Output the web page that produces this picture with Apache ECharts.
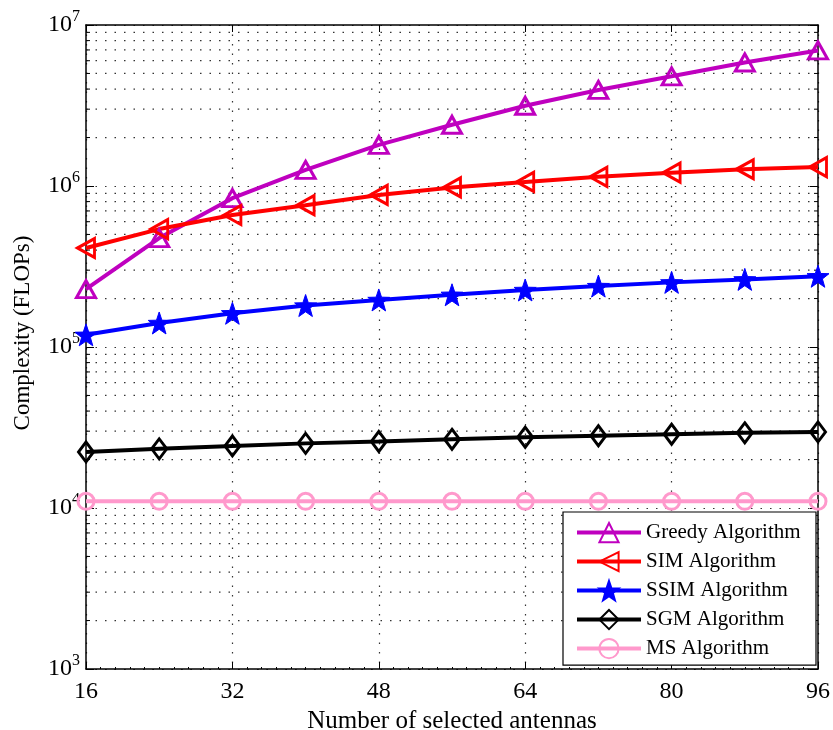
<!DOCTYPE html>
<html>
<head>
<meta charset="utf-8">
<script src="https://cdn.jsdelivr.net/npm/echarts@6/dist/echarts.min.js"></script>
<style>
  html, body { margin: 0; padding: 0; background: #fff; }
  #chart { width: 833px; height: 730px; }
</style>
</head>
<body>
<div id="chart"></div>
<script>
// Number of selected antennas
const antennas = [16, 24, 32, 40, 48, 56, 64, 72, 80, 88, 96];

// Complexity in FLOPs for each algorithm
const greedy = [2.29e5, 4.75e5, 8.4e5, 1.26e6, 1.8e6, 2.4e6, 3.15e6, 3.95e6, 4.8e6, 5.85e6, 6.95e6];
const sim    = [4.12e5, 5.4e5, 6.6e5, 7.6e5, 8.8e5, 9.8e5, 1.06e6, 1.14e6, 1.21e6, 1.27e6, 1.31e6];
const ssim   = [1.19e5, 1.41e5, 1.62e5, 1.81e5, 1.96e5, 2.11e5, 2.26e5, 2.39e5, 2.52e5, 2.63e5, 2.75e5];
const sgm    = [2.23e4, 2.33e4, 2.43e4, 2.52e4, 2.59e4, 2.67e4, 2.75e4, 2.81e4, 2.87e4, 2.93e4, 2.97e4];
const ms     = [1.1e4, 1.1e4, 1.1e4, 1.1e4, 1.1e4, 1.1e4, 1.1e4, 1.1e4, 1.1e4, 1.1e4, 1.1e4];

const seriesNames = ['Greedy Algorithm', 'SIM Algorithm', 'SSIM Algorithm', 'SGM Algorithm', 'MS Algorithm'];
const xTicks = [16, 32, 48, 64, 80, 96];
const yDecades = [3, 4, 5, 6, 7];

const FONT = '"Liberation Serif", "DejaVu Serif", serif';

// minor log positions 2..9 x 10^k between the decades
const minorVals = [];
for (let e = yDecades[0]; e < yDecades[yDecades.length - 1]; e++) {
  for (let k = 2; k <= 9; k++) minorVals.push(k * Math.pow(10, e));
}

const STAR = 'path://M0,-10L2.35,-3.24L9.51,-3.09L3.8,1.24L5.88,8.09L0,4.2L-5.88,8.09L-3.8,1.24L-9.51,-3.09L-2.35,-3.24Z';

function lineSeries(name, data, color, symbol, size, opts) {
  const filled = opts && opts.filled;
  return Object.assign({
    name: name,
    type: 'line',
    data: antennas.map((x, i) => [x, data[i]]),
    symbol: symbol,
    symbolSize: size,
    showAllSymbol: true,
    lineStyle: { color: color, width: 4 },
    itemStyle: filled
      ? { color: color, borderColor: color, borderWidth: 1 }
      : { color: 'rgba(255,255,255,0)', borderColor: color, borderWidth: 3 },
    emphasis: { disabled: true },
    z: 5
  }, opts && opts.extra ? opts.extra : {});
}

const chart = echarts.init(document.getElementById('chart'), null, { renderer: 'canvas' });

const gridDash = { color: '#333', type: [1.5, 8], width: 1.2 };

const option = {
  animation: false,
  backgroundColor: '#fff',
  grid: { left: 86, top: 25, right: 15, bottom: 61, containLabel: false, outerBoundsMode: 'none' },
  legend: {
    data: seriesNames,
    orient: 'vertical',
    left: 563,
    top: 512,
    itemWidth: 64,
    itemHeight: 24,
    itemGap: 7.8,
    padding: [10, 0, 6, 12],
    backgroundColor: '#fff',
    borderColor: '#000',
    borderWidth: 1.2,
    borderRadius: 0,
    selectedMode: false,
    lineStyle: { width: 4 },
    textStyle: {
      fontFamily: FONT, fontSize: 21, color: '#000', lineHeight: 20,
      width: 160, padding: [0, 10, 0, 0]
    }
  },
  xAxis: [{
    type: 'value',
    min: 16, max: 96, interval: 16,
    position: 'bottom',
    name: 'Number of selected antennas',
    nameLocation: 'middle',
    nameGap: 36,
    nameTextStyle: { fontFamily: FONT, fontSize: 25, color: '#000' },
    axisLine: { show: true, lineStyle: { color: '#000', width: 1.5 } },
    axisTick: { show: true, inside: true, length: 7, lineStyle: { color: '#000', width: 1 } },
    minorTick: { show: true, splitNumber: 10, length: 2, lineStyle: { color: '#000', width: 1 } },
    axisLabel: {
      fontFamily: FONT, fontSize: 24, color: '#000', margin: 11,
      formatter: v => xTicks.includes(v) ? String(v) : ''
    },
    splitLine: { show: true, lineStyle: gridDash }
  }, {
    type: 'value',
    min: 16, max: 96, interval: 16,
    position: 'top',
    axisLine: { show: true, lineStyle: { color: '#000', width: 1.5 } },
    axisTick: { show: true, inside: true, length: 7, lineStyle: { color: '#000', width: 1 } },
    axisLabel: { show: false },
    splitLine: { show: false }
  }],
  yAxis: [{
    type: 'log',
    logBase: 10,
    min: Math.pow(10, yDecades[0]),
    max: Math.pow(10, yDecades[yDecades.length - 1]),
    name: 'Complexity (FLOPs)',
    nameLocation: 'middle',
    nameGap: 52,
    nameTextStyle: { fontFamily: FONT, fontSize: 23, color: '#000', padding: [0, 0, 0, 28] },
    axisLine: { show: true, lineStyle: { color: '#000', width: 1.5 } },
    axisTick: { show: true, inside: true, length: 8, lineStyle: { color: '#000', width: 1 } },
    axisLabel: {
      margin: 6,
      formatter: v => {
        const e = Math.round(Math.log10(v));
        return '{b|10}{s|' + e + '}';
      },
      rich: {
        b: { fontFamily: FONT, fontSize: 24, color: '#000' },
        s: { fontFamily: FONT, fontSize: 16, color: '#000', padding: [0, 0, 16, 0] }
      }
    },
    splitLine: { show: true, lineStyle: gridDash }
  }, {
    type: 'log',
    logBase: 10,
    min: Math.pow(10, yDecades[0]),
    max: Math.pow(10, yDecades[yDecades.length - 1]),
    position: 'right',
    axisLine: { show: true, lineStyle: { color: '#000', width: 1.5 } },
    axisTick: { show: true, inside: true, length: 8, lineStyle: { color: '#000', width: 1 } },
    axisLabel: { show: false },
    splitLine: { show: false }
  }],
  series: [
    {
      // dotted minor grid lines with inner minor ticks on both sides
      name: 'minor-grid',
      type: 'custom',
      silent: true,
      z: 1,
      data: minorVals.map(v => [16, v]),
      encode: { x: 0, y: 1 },
      renderItem: function (params, api) {
        const v = api.value(1);
        const a = api.coord([16, v]);
        const b = api.coord([96, v]);
        return {
          type: 'group',
          children: [
            { type: 'line', shape: { x1: a[0], y1: a[1], x2: b[0], y2: b[1] },
              style: { stroke: '#333', lineWidth: 1.2, lineDash: [1.5, 8] } },
            { type: 'line', shape: { x1: a[0], y1: a[1], x2: a[0] + 4, y2: a[1] },
              style: { stroke: '#000', lineWidth: 1 } },
            { type: 'line', shape: { x1: b[0], y1: b[1], x2: b[0] - 4, y2: b[1] },
              style: { stroke: '#000', lineWidth: 1 } }
          ]
        };
      }
    },
    lineSeries(seriesNames[0], greedy, '#bf00bf', 'triangle', [19, 17]),
    lineSeries(seriesNames[1], sim, '#ff0000', 'triangle', [19, 17], { extra: { symbolRotate: 90 } }),
    lineSeries(seriesNames[2], ssim, '#0000ff', STAR, 22, { filled: true }),
    lineSeries(seriesNames[3], sgm, '#000000', 'diamond', [15, 20]),
    lineSeries(seriesNames[4], ms, '#ff99cc', 'circle', 16)
  ]
};

chart.setOption(option);
</script>
</body>
</html>
